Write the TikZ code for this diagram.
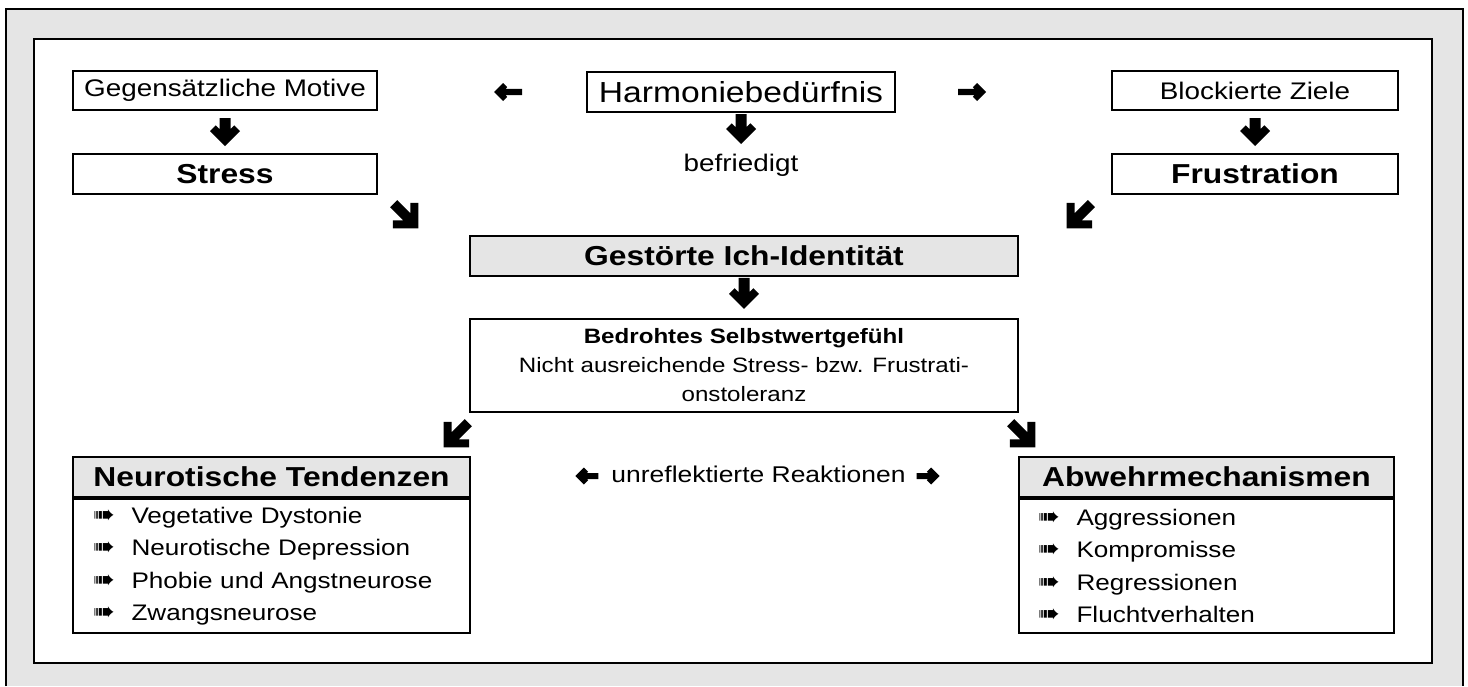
\documentclass[tikz,border=0pt]{standalone}
\usepackage{fontspec}
\setmainfont{Liberation Sans}[FakeStretch=1.16]
\newfontfamily\dingfont{DejaVu Sans}
\usetikzlibrary{positioning}
\usetikzlibrary{calc}
\newcommand{\itm}{\makebox[19.25pt][l]{\dingfont\fontsize{13}{13}\selectfont ➠}}
\tikzset{
box/.style={draw,inner sep=0pt,align=center},
small box/.style={box,minimum height=19.5pt,font=\fontsize{12}{14}\selectfont},
title box/.style={box,minimum height=20pt,font=\bfseries\fontsize{13.7}{16}\selectfont},
grey box/.style={title box,fill=black!10},
list box/.style={box,anchor=north,align=left,minimum height=67pt,
  font=\fontsize{11.25}{16.25}\selectfont},
plain text/.style={inner sep=0pt},
pics/heavy arrow/.style n args={4}{code={
  \pgfmathsetmacro\ahl{#1/2}
  \pgfmathsetmacro\ahc{0.707*#4}
  \fill (\ahl,0) -- ++(-#2,#2) -- ++(-\ahc,-\ahc) -- (\ahl-2*\ahc-#3,#3)
    -- (-\ahl,#3) -- (-\ahl,-#3) -- (\ahl-2*\ahc-#3,-#3)
    -- (\ahl-#2-\ahc,-#2+\ahc) -- (\ahl-#2,-#2) -- cycle;
}}
}
\begin{document}
\begin{tikzpicture}[x=0.5pt,y=-0.5pt,line width=1pt]
\fill[white] (0,0) rectangle (1468,686);
\useasboundingbox (0,0) rectangle (1468,686);
% frame
\fill[black!10] (6,9) rectangle (1463,686);
\draw (6,686) -- (6,9) -- (1463,9) -- (1463,686);
\draw[fill=white] (34,39) rectangle (1432,663);

\node[small box,minimum width=152pt] (motive) at (225,90.5) {Gegensätzliche Motive};
\node[title box,minimum width=152pt] (stress) at (225,174) {Stress};
\node[box,minimum width=154pt,minimum height=20pt,font=\fontsize{14.5}{17}\selectfont]
  (harmonie) at (741,92) {Harmoniebedürfnis};
\node[plain text,font=\fontsize{12}{14}\selectfont] (befr) at (741,165) {befriedigt};
\node[small box,minimum width=143pt] (ziele) at (1255,90.5) {Blockierte Ziele};
\node[title box,minimum width=143pt] (frust) at (1255,174) {Frustration};
\node[grey box,minimum width=274pt] (ich) at (744,256) {Gestörte Ich-Identität};
\node[box,minimum width=274pt,minimum height=46.5pt,font=\fontsize{10.4}{14.5}\selectfont]
  (selbst) at (744,365.5) {\textbf{Bedrohtes Selbstwertgefühl}\\
  Nicht ausreichende Stress- bzw. Frustrati-\\onstoleranz};
\node[grey box,minimum width=198.5pt] (neurohead) at (271.5,477) {Neurotische Tendenzen};
\node[list box,text width=178.5pt,inner xsep=10pt] (neurolist) at (neurohead.south)
  {\itm Vegetative Dystonie\\ \itm Neurotische Depression\\
   \itm Phobie und Angstneurose\\ \itm Zwangsneurose};
\node[grey box,minimum width=187.5pt] (abwehrhead) at (1206.5,477) {Abwehrmechanismen};
\node[list box,text width=168.5pt,inner xsep=9.5pt] (abwehrlist) at (abwehrhead.south)
  {\itm Aggressionen\\ \itm Kompromisse\\ \itm Regressionen\\ \itm Fluchtverhalten};
\node[plain text,font=\fontsize{11.4}{14}\selectfont] (reakt) at (758.5,474)
  {unreflektierte Reaktionen};

% arrows
\pic[rotate=-90] at ($(motive.south)!0.5!(stress.north)$) {heavy arrow={28}{15}{5.5}{8}};
\pic[rotate=-90] at ($(ziele.south)!0.5!(frust.north)$) {heavy arrow={28}{15}{5.5}{8}};
\pic[rotate=-90] at ($(harmonie.south)+(0,16)$) {heavy arrow={30}{15}{5.5}{8}};
\pic[rotate=-90] at ($(ich.south)!0.4!(selbst.north)$) {heavy arrow={31}{15}{5.5}{8}};
\pic[rotate=180] at ($(harmonie.west)+(-78,0)$) {heavy arrow={28}{9}{3.2}{6}};
\pic at ($(harmonie.east)+(76,0)$) {heavy arrow={28}{9}{3.2}{6}};
\pic[rotate=-45] at ($(stress.south east)+(28,21)$) {heavy arrow={35}{18}{5}{8}};
\pic[rotate=-135] at ($(frust.south west)+(-32,21)$) {heavy arrow={35}{18}{5}{8}};
\pic[rotate=-135] at ($(selbst.south west)+(-13,22)$) {heavy arrow={35}{18}{5}{8}};
\pic[rotate=-45] at ($(selbst.south east)+(4,22)$) {heavy arrow={35}{18}{5}{8}};
\pic[rotate=180] at ($(reakt.west)+(-23.5,2)$) {heavy arrow={23}{8.5}{3}{6}};
\pic at ($(reakt.east)+(21.5,2)$) {heavy arrow={23}{8.5}{3}{6}};
\end{tikzpicture}
\end{document}
